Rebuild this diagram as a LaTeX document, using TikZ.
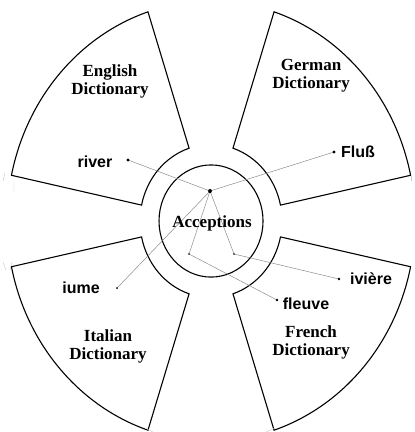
\documentclass[tikz,border=0pt]{standalone}
\usepackage{fontspec}
\setmainfont{Liberation Serif}
\setsansfont{Liberation Sans}
\definecolor{LinkClr}{rgb}{0.55,0.55,0.55}
\definecolor{ShapeClr}{rgb}{0,0,0}
\definecolor{StubClr}{rgb}{0.78,0.78,0.78}

\begin{document}
\begin{tikzpicture}[x=1pt,y=1pt,yscale=1.078,
  dict/.style={font=\fontsize{17}{18}\selectfont\bfseries,align=center,inner sep=0pt},
  word/.style={font=\sffamily\bfseries\fontsize{16}{18}\selectfont,inner sep=0pt},
  sector/.style={line width=1.1pt,color=ShapeClr},
  link/.style={line width=0.5pt,color=LinkClr},
  stub/.style={line width=0.4pt,color=StubClr}]
\useasboundingbox (-211,-195.7) rectangle (203,205);

% the four dictionaries
\foreach \a in {12,108,192,288}
  \draw[sector] (\a:71) -- (\a:204) arc[start angle=\a,end angle=\a+60,radius=204]
    -- (\a+60:71) arc[start angle=\a+60,end angle=\a,radius=71] -- cycle;

\draw[sector] (0,0) circle[radius=52];

% points
\coordinate (A) at (-1,27.8);
\coordinate (L) at (-22,-30.6);
\coordinate (M) at (23,-30.6);
\coordinate (Rv) at (-83,56.6);
\coordinate (Fl) at (123,64);
\coordinate (Fi) at (-94,-62.2);
\coordinate (Ri) at (128,-53.8);
\coordinate (Fv) at (66,-73.3);

\draw[link] (A) -- (Rv) (A) -- (Fl) (A) -- (Fi) (A) -- (L) (A) -- (M)
  (L) -- (Fv) (M) -- (Ri);

\fill (A) circle[radius=1.9pt];
\fill (Rv) circle[radius=1.6pt] (Fl) circle[radius=1.6pt]
  (Ri) circle[radius=1.3pt] (Fv) circle[radius=1.3pt];
\fill (Fi) circle[radius=0.9pt] (L) circle[radius=0.9pt] (M) circle[radius=0.9pt];

% labels
\node[dict] (acc) at (1,-2) {Acceptions};
\node[dict] (eng) at (-101,129) {English\\Dictionary};
\node[dict] (ger) at (100,134.5) {German\\Dictionary};
\node[dict] (ita) at (-103,-116) {Italian\\Dictionary};
\node[dict] (fre) at (100,-113) {French\\Dictionary};

\node[word] (river) at (-116,54.7) {river};
\node[word] (fluss) at (147,64) {Flu\ss};
\node[word] (iume) at (-130,-62.2) {iume};
\node[word] (riviere) at (160,-53.8) {ivière};
\node[word] (fleuve) at (95,-77) {fleuve};

% clipped stubs
\draw[stub] (-206,44.5) -- (-208,37.1) (-197,36.2) -- (-197,26.9);
\draw[stub] (200,41.7) -- (200,37.1);
\draw[stub] (-208,-38) -- (-205,-45.5) (-199,-38) -- (-201,-45.5);
\draw[stub] (-66,-192) -- (-58,-195.7) (64,-192) -- (55,-195.7);
\end{tikzpicture}
\end{document}
